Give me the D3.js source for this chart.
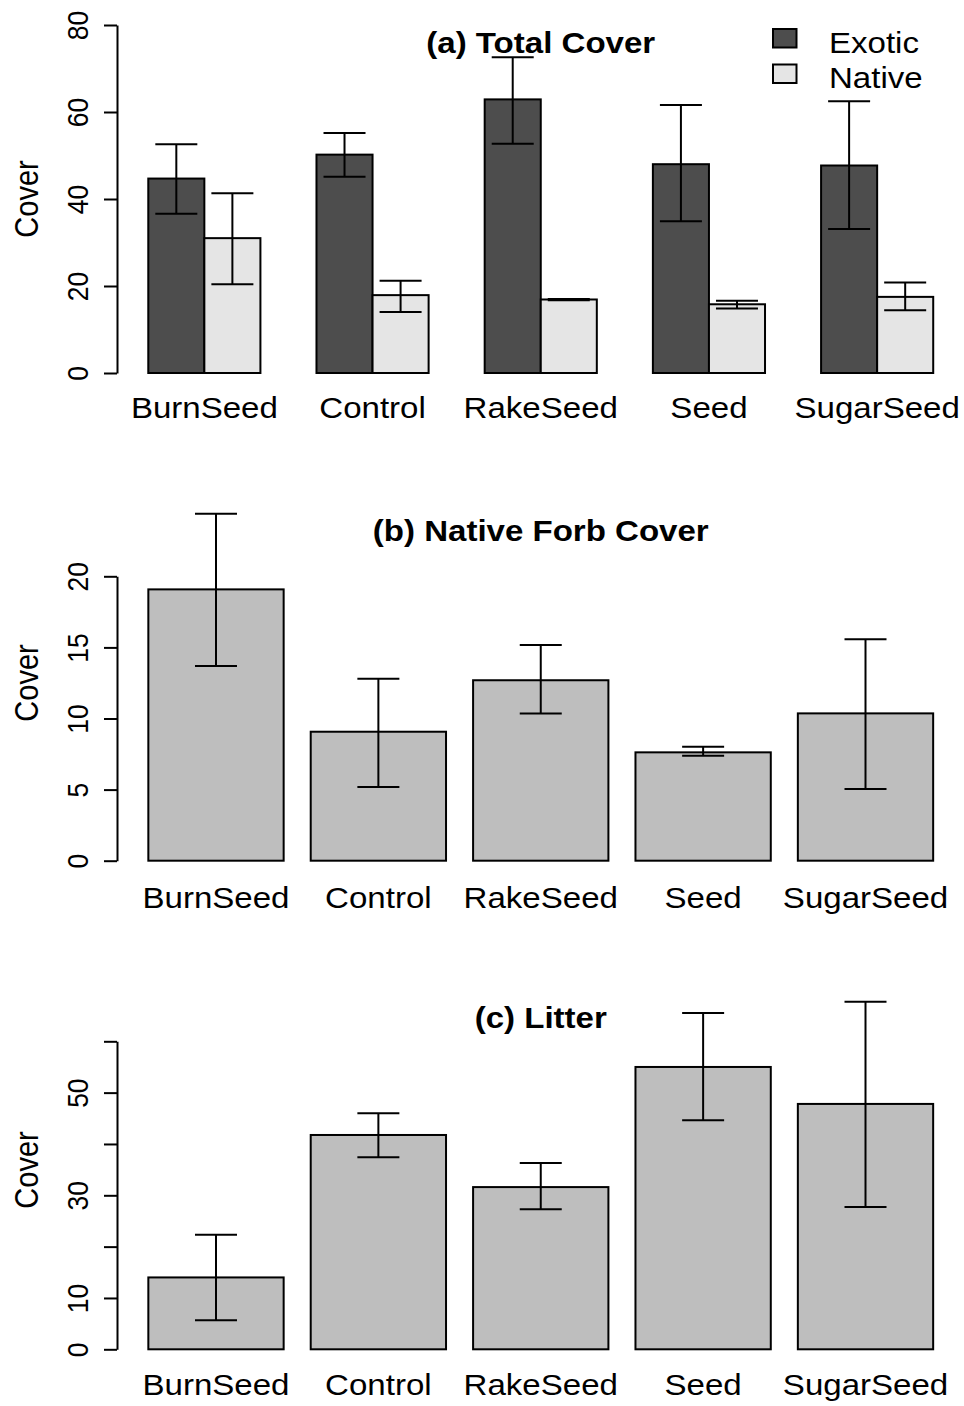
<!DOCTYPE html>
<html>
<head>
<meta charset="utf-8">
<script src="https://cdn.jsdelivr.net/npm/d3@7"></script>
<style>
  body { margin: 0; background: #fff; }
  svg { display: block; font-family: "Liberation Sans", Arial, sans-serif; }
  .axis path, .axis line { fill: none; stroke: #000; stroke-width: 2px; }
  .bar { stroke: #000; stroke-width: 2px; }
  .err { stroke: #000; stroke-width: 2px; fill: none; }
</style>
</head>
<body>
<script>
  // data
  let categories = ['BurnSeed', 'Control', 'RakeSeed', 'Seed', 'SugarSeed'];
  let seriesNames = ['Exotic', 'Native'];

  let exotic = [44.7, 50.2, 62.9, 48.0, 47.7];
  let exoticLo = [36.6, 45.1, 52.7, 34.9, 33.1];
  let exoticHi = [52.6, 55.2, 72.6, 61.6, 62.5];
  let native = [31.0, 17.9, 16.9, 15.8, 17.5];
  let nativeLo = [20.4, 14.0, 16.75, 14.8, 14.4];
  let nativeHi = [41.3, 21.2, 17.0, 16.6, 20.8];

  let forb = [19.08, 9.07, 12.69, 7.62, 10.36];
  let forbLo = [13.7, 5.18, 10.36, 7.38, 5.04];
  let forbHi = [24.4, 12.8, 15.17, 8.02, 15.57];

  let litter = [14.0, 41.75, 31.6, 55.0, 47.8];
  let litterLo = [5.65, 37.4, 27.3, 44.6, 27.7];
  let litterHi = [22.3, 46.0, 36.3, 65.5, 67.7];

  let ticksA = [0, 20, 40, 60, 80];
  let ticksB = [0, 5, 10, 15, 20];
  let ticksC = [0, 10, 20, 30, 40, 50, 60];
  let labelsC = [0, 10, 30, 50];

  let W = 964, H = 1406;
  let left = 117, right = 964.5;
  let stretch = 1.14; // text in the original is a bit wider than tall
  let capHalf = 21;
  let colors = {Exotic: '#4d4d4d', Native: '#e5e5e5', single: '#bebebe'};

  let svg = d3.select('body').append('svg')
    .attr('width', W)
    .attr('height', H);

  function hText(g, x, y, txt, size, weight) {
    return g.append('text')
      .attr('transform', 'translate(' + x + ',' + y + ') scale(' + stretch + ',1)')
      .attr('text-anchor', 'middle')
      .attr('font-size', size)
      .attr('font-weight', weight || 'normal')
      .text(txt);
  }

  function drawAxis(y, ticks, labelled, mid) {
    let axis = d3.axisLeft(y)
      .tickValues(ticks)
      .tickSize(13)
      .tickSizeOuter(0)
      .tickFormat(function(d) {
        return labelled.indexOf(d) >= 0 ? d : '';
      });
    let g = svg.append('g')
      .attr('class', 'axis')
      .attr('transform', 'translate(' + left + ',0)')
      .call(axis);
    g.selectAll('.tick text')
      .attr('x', null)
      .attr('dy', null)
      .attr('text-anchor', 'middle')
      .attr('fill', '#000')
      .attr('font-size', 26.5)
      .attr('font-family', '"Liberation Sans", Arial, sans-serif')
      .attr('transform', 'translate(-29,0) scale(' + stretch + ',1) rotate(-90)');

    // y label
    svg.append('text')
      .attr('transform', 'translate(38,' + mid + ') scale(' + stretch + ',1) rotate(-90)')
      .attr('text-anchor', 'middle')
      .attr('font-size', 29)
      .text('Cover');
  }

  function errBars(x, y, vals, lo, hi) {
    let g = svg.append('g').attr('class', 'err');
    vals.forEach(function(v, i) {
      let cx = x(i);
      g.append('line').attr('x1', cx).attr('x2', cx).attr('y1', y(lo[i])).attr('y2', y(hi[i]));
      g.append('line').attr('x1', cx - capHalf).attr('x2', cx + capHalf).attr('y1', y(lo[i])).attr('y2', y(lo[i]));
      g.append('line').attr('x1', cx - capHalf).attr('x2', cx + capHalf).attr('y1', y(hi[i])).attr('y2', y(hi[i]));
    });
  }

  function catLabels(x, bw, base) {
    categories.forEach(function(c) {
      hText(svg, x(c) + bw / 2, base, c, 29);
    });
  }

  // ---------- (a) Total Cover ----------
  (function() {
    let y = d3.scaleLinear().domain([0, 80]).range([373, 25]);
    let x0 = d3.scaleBand().domain(categories).range([left, right])
      .paddingInner(1 / 3).paddingOuter(0.186);
    let x1 = d3.scaleBand().domain(seriesNames).range([0, x0.bandwidth()]);

    let rows = [];
    categories.forEach(function(c, i) {
      rows.push({cat: c, s: 'Exotic', v: exotic[i]});
      rows.push({cat: c, s: 'Native', v: native[i]});
    });

    svg.append('g').selectAll('rect').data(rows).enter().append('rect')
      .attr('class', 'bar')
      .attr('x', function(d) { return x0(d.cat) + x1(d.s); })
      .attr('y', function(d) { return y(d.v); })
      .attr('width', x1.bandwidth())
      .attr('height', function(d) { return y(0) - y(d.v); })
      .attr('fill', function(d) { return colors[d.s]; });

    errBars(function(i) { return x0(categories[i]) + x1('Exotic') + x1.bandwidth() / 2; }, y, exotic, exoticLo, exoticHi);
    errBars(function(i) { return x0(categories[i]) + x1('Native') + x1.bandwidth() / 2; }, y, native, nativeLo, nativeHi);

    drawAxis(y, ticksA, ticksA, 199);

    catLabels(x0, x0.bandwidth(), 418);
    hText(svg, (left + right) / 2, 53, '(a) Total Cover', 29, 'bold');

    // legend
    let leg = svg.append('g');
    seriesNames.forEach(function(s, i) {
      leg.append('rect')
        .attr('x', 773).attr('y', 29 + i * 35.5)
        .attr('width', 23.5).attr('height', 18.5)
        .attr('fill', colors[s]).attr('stroke', '#000').attr('stroke-width', 2);
      leg.append('text')
        .attr('transform', 'translate(829,' + (53 + i * 35) + ') scale(' + stretch + ',1)')
        .attr('font-size', 29)
        .text(s);
    });
  })();

  function singlePanel(vals, lo, hi, ymax, yPx0, yPxTop, ticks, labelled, mid, catBase, title, titleBase) {
    let y = d3.scaleLinear().domain([0, ymax]).range([yPx0, yPxTop]);
    let x = d3.scaleBand().domain(categories).range([left, right])
      .paddingInner(1 / 6).paddingOuter(0.193);

    svg.append('g').selectAll('rect').data(vals).enter().append('rect')
      .attr('class', 'bar')
      .attr('x', function(d, i) { return x(categories[i]); })
      .attr('y', function(d) { return y(d); })
      .attr('width', x.bandwidth())
      .attr('height', function(d) { return y(0) - y(d); })
      .attr('fill', colors.single);

    errBars(function(i) { return x(categories[i]) + x.bandwidth() / 2; }, y, vals, lo, hi);

    drawAxis(y, ticks, labelled, mid);

    catLabels(x, x.bandwidth(), catBase);
    hText(svg, (left + right) / 2, titleBase, title, 29, 'bold');
  }

  // ---------- (b) Native Forb Cover ----------
  singlePanel(forb, forbLo, forbHi, 20, 860.7, 576.3, ticksB, ticksB, 683, 908, '(b) Native Forb Cover', 540.5);

  // ---------- (c) Litter ----------
  singlePanel(litter, litterLo, litterHi, 60, 1349.3, 1041.3, ticksC, labelsC, 1170, 1395, '(c) Litter', 1028);
</script>
</body>
</html>
